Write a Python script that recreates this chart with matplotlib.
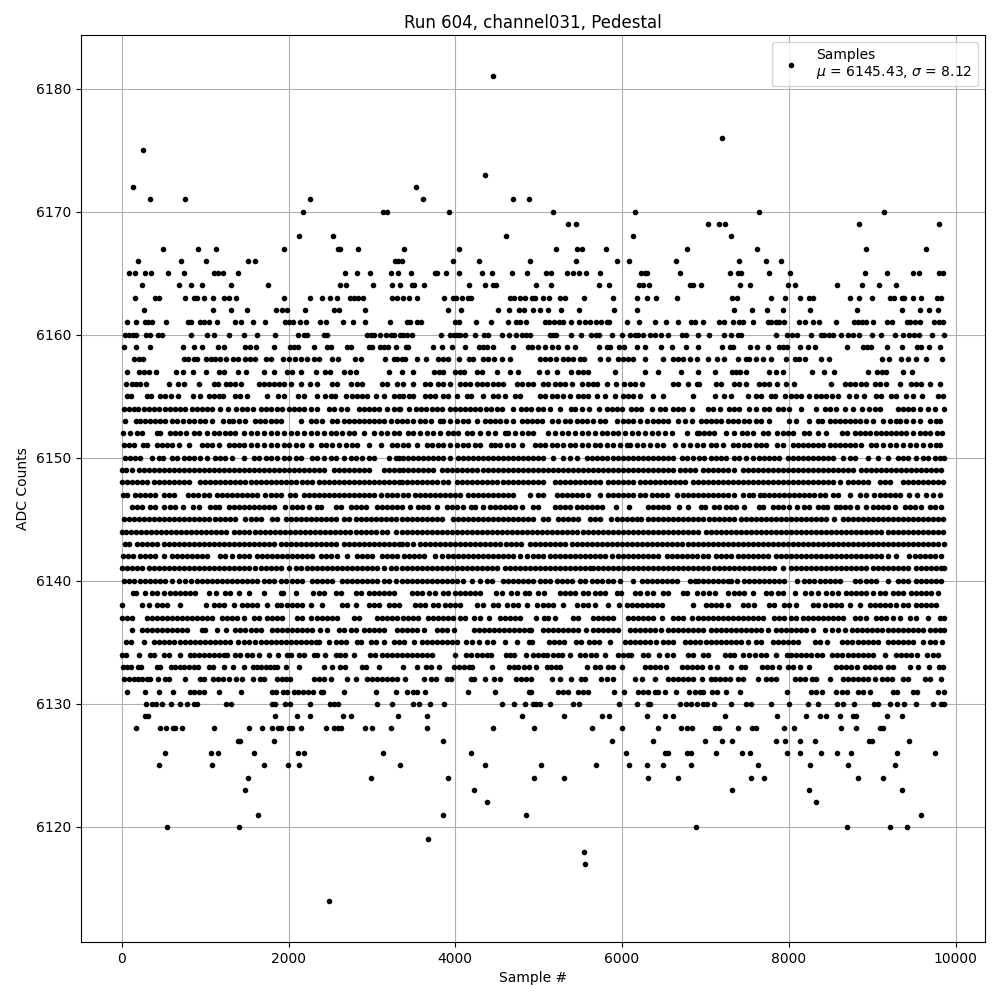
"""
Pedestal scatter for run 604, channel031. Sample numbers are read off per ADC level.
"""
import matplotlib
matplotlib.use("Agg")
import matplotlib.pyplot as plt

s_6181 = [4455]
s_6176 = [7198]
s_6175 = [251]
s_6173 = [4359]
s_6172 = [132, 3524]
s_6171 = [336, 756, 2254, 3608, 4688, 4880]
s_6170 = [2168, 3132, 3176, 3920, 5172, 6156, 7644, 9144]
s_6169 = [5352, 5448, 7032, 7164, 7236, 8844, 9796]
s_6168 = [2124, 2532, 4608, 6132, 7308]
s_6167 = [492, 912, 1128, 1944, 2592, 2620, 2832, 3384, 4044, 5208, 5460, 5520, 5808, 6780, 7620, 8928, 9648]
s_6166 = [192, 708, 1008, 1512, 1596, 3276, 3312, 3364, 3976, 4288, 4892, 5448, 5940, 6084, 6648, 7404, 7728, 7912]
s_6165 = [88, 160, 280, 352, 556, 748, 1104, 1152, 1216, 1392, 2676, 2820, 2976, 3228, 3312, 3468, 3752, 3784, 3888,
          4044, 4320, 4440, 4680, 4864, 5084, 5148, 5340, 5412, 5484, 5568, 5736, 6228, 6276, 6300, 6696, 7296, 7392,
          7428, 7764, 8016, 8916, 9180, 9492, 9564, 9804, 9852]
s_6164 = [240, 684, 828, 960, 1308, 1752, 2620, 2688, 3008, 3240, 3336, 3480, 3504, 3620, 4164, 4356, 4452, 4488, 4968,
          5148, 5724, 5844, 6204, 6252, 6324, 6816, 6852, 6948, 7416, 7536, 7992, 8076, 8580, 8880, 9084, 9288]
s_6163 = [156, 396, 444, 756, 864, 900, 984, 1092, 1224, 1284, 1368, 1944, 2256, 2400, 2496, 2580, 2736, 2784, 2832,
          2892, 3240, 3300, 3372, 3444, 3540, 3864, 3968, 4008, 4080, 4152, 4188, 4656, 4704, 4776, 4836, 4920, 4956,
          5052, 5124, 5256, 5316, 5544, 5892, 6180, 6300, 6408, 6660, 7320, 7380, 7788, 7956, 8136, 8244, 8292, 8736,
          8844, 9000, 9216, 9264, 9360, 9384, 9492, 9588, 9780, 9828]
s_6162 = [264, 1092, 1308, 1500, 1848, 1920, 1984, 2196, 2544, 2604, 2916, 3912, 4068, 4512, 4644, 4764, 4824, 4932,
          5016, 5112, 5268, 5484, 5904, 6180, 7344, 7560, 7740, 7932, 8256, 8820, 9360, 9576, 9684, 9792]
s_6161 = [60, 168, 276, 312, 360, 528, 792, 828, 936, 984, 1044, 1140, 1356, 1428, 1572, 1716, 1956, 2004, 2052, 2136,
          2208, 2376, 2448, 2652, 2772, 2916, 3216, 3420, 3456, 3540, 3588, 3996, 4044, 4252, 4428, 4632, 4728, 4776,
          4848, 5076, 5124, 5184, 5244, 5292, 5388, 5484, 5556, 5616, 5688, 5748, 5820, 5844, 6060, 6204, 6392, 6528,
          6672, 6828, 6876, 6972, 7164, 7224, 7332, 7404, 7452, 7572, 7752, 7788, 7848, 7884, 7944, 8124, 8196, 8292,
          8364, 8568, 8784, 8832, 8880, 8928, 9012, 9180, 9240, 9420, 9456, 9516, 9576, 9744, 9804, 9852]
s_6160 = [36, 84, 132, 168, 288, 336, 432, 480, 828, 1020, 1104, 1284, 1464, 1620, 1836, 2112, 2184, 2220, 2424, 2460,
          2940, 2988, 3024, 3096, 3168, 3228, 3264, 3336, 3372, 3420, 3480, 3828, 3936, 3984, 4020, 4056, 4116, 4236,
          4344, 4392, 4560, 4644, 4728, 4800, 4848, 4892, 5136, 5172, 5208, 5388, 5508, 5628, 5688, 5724, 5880, 6000,
          6096, 6156, 6192, 6252, 6336, 6396, 6468, 6552, 6720, 6768, 6912, 7044, 7224, 7308, 7392, 7428, 7848, 7980,
          8040, 8100, 8268, 8388, 8424, 8484, 8532, 8628, 8712, 8772, 8844, 9000, 9108, 9276, 9372, 9444, 9504, 9564,
          9720, 9860]
s_6159 = [32, 168, 336, 732, 864, 960, 1152, 1224, 1476, 1536, 1608, 1824, 2016, 2064, 2112, 2304, 2464, 2512, 2704,
          2752, 2964, 3004, 3096, 3144, 3192, 3288, 3408, 3436, 3736, 3844, 3964, 4120, 4280, 4336, 4384, 4456, 4696,
          4876, 4916, 4996, 5076, 5156, 5236, 5344, 5440, 5728, 5824, 5856, 5968, 6024, 6184, 6276, 6472, 6596, 6764,
          6916, 7196, 7296, 7328, 7532, 7616, 7748, 7880, 7928, 7976, 8132, 8228, 8312, 8696, 8888, 8936, 8984, 9176,
          9356, 9536, 9584, 9680, 9812]
s_6158 = [144, 204, 256, 744, 792, 864, 904, 1016, 1072, 1124, 1176, 1256, 1336, 1392, 1484, 1536, 1592, 1724, 1784,
          1936, 2004, 2072, 2144, 2216, 2304, 2364, 2516, 2592, 2792, 2864, 3152, 3264, 3304, 3356, 3396, 3536, 3648,
          3796, 3856, 3908, 4044, 4164, 4216, 4336, 4396, 4468, 4556, 4656, 5016, 5076, 5136, 5208, 5296, 5356, 5416,
          5496, 5544, 5736, 5836, 5956, 6016, 6076, 6136, 6280, 6496, 6616, 6676, 6736, 6816, 6896, 7028, 7140, 7228,
          7388, 7488, 7528, 7604, 7696, 7788, 7968, 8080, 8128, 8192, 8384, 8480, 9116, 9196, 9348, 9428, 9528, 9644,
          9840]
s_6157 = [64, 204, 264, 324, 408, 648, 732, 852, 1008, 1164, 1224, 1392, 1488, 1700, 1824, 1984, 2044, 2152, 2332, 2432,
          2496, 2664, 2736, 2808, 3204, 3364, 3496, 3744, 3808, 3848, 3996, 4056, 4104, 4256, 4316, 4496, 4656, 4756,
          5008, 5096, 5224, 5384, 5476, 5536, 5596, 5920, 6276, 6436, 6704, 6908, 7112, 7316, 7368, 7416, 7484, 7760,
          7848, 7928, 8276, 8420, 8540, 8948, 9056, 9120, 9168, 9368, 9476]
s_6156 = [48, 124, 172, 224, 296, 564, 672, 744, 924, 1104, 1152, 1256, 1304, 1364, 1432, 1644, 1704, 1764, 1824, 1884,
          1944, 2024, 2144, 2256, 2344, 2524, 2576, 2744, 2824, 2884, 3124, 3184, 3304, 3376, 3496, 3636, 3696, 3796,
          3856, 3936, 4056, 4116, 4176, 4256, 4316, 4384, 4456, 4516, 4576, 4736, 4796, 4876, 4936, 5056, 5116, 5196,
          5256, 5316, 5396, 5516, 5596, 5656, 5704, 5824, 5928, 6024, 6096, 6156, 6236, 6616, 6676, 6796, 6896, 6928,
          7128, 7188, 7348, 7408, 7488, 7648, 7708, 7768, 7856, 7968, 8068, 8504, 8668, 8728, 8788, 8868, 8920, 9028,
          9088, 9168, 9328, 9468, 9528, 9588, 9696, 9816]
s_6155 = [64, 112, 304, 352, 464, 524, 592, 672, 856, 936, 1044, 1104, 1164, 1216, 1364, 1424, 1504, 1744, 1872, 1944,
          2112, 2184, 2344, 2432, 2504, 2552, 2684, 2764, 2824, 2884, 2944, 3044, 3144, 3264, 3324, 3376, 3448, 3496,
          3636, 3696, 3756, 3856, 3916, 4016, 4136, 4184, 4336, 4456, 4516, 4596, 4716, 4776, 5016, 5076, 5156, 5216,
          5296, 5376, 5476, 5536, 5596, 5696, 5796, 5916, 6016, 6076, 6136, 6216, 6376, 6488, 6848, 7120, 7220, 7304,
          7508, 7608, 7668, 7788, 7840, 7956, 8028, 8088, 8148, 8240, 8328, 8388, 8448, 8520, 8588, 8720, 8800, 8896,
          9048, 9108, 9220, 9288, 9400, 9488, 9592, 9788, 9848]
s_6154 = [24, 84, 144, 192, 264, 324, 384, 444, 524, 584, 644, 704, 764, 844, 904, 964, 1024, 1084, 1176, 1272, 1376,
          1444, 1504, 1576, 1672, 1732, 1792, 1864, 1924, 2004, 2064, 2124, 2184, 2264, 2344, 2484, 2544, 2624, 2696,
          2844, 2904, 2964, 3024, 3084, 3184, 3264, 3324, 3336, 3448, 3528, 3584, 3648, 3716, 3776, 3836, 3936, 3996,
          4056, 4116, 4176, 4236, 4296, 4368, 4424, 4496, 4564, 4696, 4784, 4848, 4904, 4996, 5056, 5136, 5256, 5388,
          5436, 5524, 5608, 5728, 5824, 5884, 5936, 5996, 6104, 6168, 6224, 6364, 6456, 6516, 6608, 6676, 6736, 6840,
          7028, 7088, 7180, 7288, 7348, 7408, 7520, 7608, 7708, 7768, 7868, 7928, 8000, 8148, 8320, 8428, 8488, 8568,
          8668, 8768, 8880, 8960, 9028, 9088, 9308, 9368, 9428, 9488, 9568, 9668, 9748, 9860]
s_6153 = [44, 176, 224, 284, 344, 404, 464, 524, 604, 664, 736, 804, 872, 944, 1004, 1084, 1216, 1284, 1336, 1404, 1484,
          1592, 1656, 1712, 1784, 1844, 1904, 2144, 2264, 2324, 2404, 2524, 2584, 2664, 2724, 2784, 2844, 2904, 2964,
          3024, 3084, 3144, 3224, 3304, 3356, 3416, 3496, 3576, 3636, 3708, 3816, 3856, 3936, 4016, 4096, 4156, 4264,
          4356, 4416, 4476, 4536, 4608, 4696, 4796, 4856, 4916, 4976, 5036, 5156, 5236, 5316, 5376, 5456, 5516, 5576,
          5656, 5736, 5796, 5936, 6016, 6076, 6136, 6216, 6296, 6376, 6436, 6496, 6556, 6676, 6756, 6836, 6948, 7008,
          7068, 7128, 7188, 7268, 7328, 7388, 7468, 7528, 7608, 7668, 7768, 8008, 8088, 8240, 8348, 8400, 8488, 8548,
          8608, 8668, 8728, 8788, 8848, 8928, 9008, 9128, 9208, 9280, 9336, 9408, 9488, 9568, 9696, 9768, 9816]
s_6152 = [12, 104, 184, 244, 424, 464, 576, 644, 704, 776, 864, 924, 1024, 1104, 1164, 1244, 1304, 1364, 1472, 1544,
          1624, 1704, 1784, 1864, 1944, 2024, 2104, 2184, 2264, 2344, 2424, 2504, 2564, 2644, 2724, 2784, 2904, 3024,
          3104, 3184, 3264, 3324, 3436, 3496, 3576, 3656, 3736, 3816, 3916, 3976, 4036, 4136, 4196, 4296, 4396, 4476,
          4596, 4636, 4716, 4796, 4876, 4936, 5116, 5196, 5276, 5356, 5436, 5516, 5596, 5676, 5756, 5816, 5896, 5956,
          6036, 6116, 6196, 6276, 6356, 6436, 6516, 6596, 6776, 6896, 6920, 6988, 7048, 7108, 7248, 7348, 7440, 7496,
          7576, 7696, 7748, 7856, 7928, 7988, 8048, 8188, 8248, 8348, 8448, 8640, 8696, 8788, 8848, 8908, 8976, 9048,
          9108, 9168, 9228, 9288, 9348, 9408, 9488, 9568, 9628, 9696, 9776, 9840]
s_6151 = [32, 84, 144, 256, 304, 424, 484, 544, 604, 684, 812, 964, 1024, 1084, 1164, 1284, 1344, 1404, 1464, 1544,
          1624, 1704, 1784, 1864, 1944, 2004, 2084, 2164, 2264, 2384, 2444, 2524, 2604, 2684, 2764, 2824, 2964, 3104,
          3244, 3304, 3376, 3436, 3544, 3656, 3716, 3796, 3856, 3936, 4016, 4096, 4156, 4236, 4296, 4424, 4476, 4536,
          4624, 4696, 4796, 4956, 5016, 5076, 5156, 5216, 5296, 5376, 5436, 5516, 5596, 5676, 5736, 5816, 5896, 5976,
          6056, 6096, 6184, 6256, 6336, 6416, 6496, 6636, 6736, 6816, 6896, 6968, 7068, 7128, 7208, 7328, 7388, 7468,
          7528, 7608, 7668, 7728, 7856, 7928, 8048, 8108, 8168, 8228, 8288, 8348, 8408, 8488, 8548, 8608, 8668, 8728,
          8788, 8868, 8988, 9048, 9128, 9208, 9288, 9368, 9448, 9528, 9608, 9688, 9768, 9816]
s_6150 = [44, 104, 164, 224, 364, 444, 496, 604, 664, 744, 804, 864, 944, 1024, 1124, 1184, 1244, 1324, 1464, 1584,
          1644, 1724, 1784, 1864, 1944, 2004, 2084, 2144, 2284, 2344, 2424, 2504, 2564, 2664, 2744, 2804, 2884, 2964,
          3024, 3204, 3284, 3324, 3376, 3436, 3496, 3556, 3616, 3676, 3736, 3796, 3856, 3936, 4036, 4096, 4156, 4216,
          4276, 4336, 4396, 4456, 4516, 4576, 4636, 4696, 4756, 4816, 4876, 4936, 4996, 5056, 5176, 5296, 5376, 5456,
          5576, 5636, 5696, 5756, 5816, 5896, 5956, 6016, 6076, 6136, 6196, 6256, 6316, 6376, 6436, 6496, 6556, 6616,
          6716, 6776, 6856, 6928, 6988, 7068, 7128, 7188, 7248, 7348, 7408, 7488, 7568, 7648, 7708, 7768, 7828, 7888,
          7988, 8048, 8108, 8168, 8228, 8288, 8348, 8408, 8468, 8528, 8648, 8728, 8788, 8948, 9068, 9188, 9308, 9368,
          9428, 9528, 9608, 9668, 9748, 9808, 9860]
s_6149 = [8, 56, 124, 204, 264, 324, 384, 444, 504, 564, 624, 684, 744, 804, 864, 924, 984, 1044, 1104, 1164, 1224,
          1284, 1344, 1404, 1464, 1524, 1584, 1644, 1704, 1764, 1824, 1884, 1944, 2004, 2064, 2124, 2184, 2244, 2304,
          2364, 2424, 2544, 2604, 2664, 2724, 2784, 2844, 2904, 2964, 3144, 3204, 3264, 3324, 3376, 3436, 3496, 3556,
          3616, 3676, 3736, 3836, 3896, 3956, 4016, 4076, 4136, 4196, 4256, 4336, 4396, 4456, 4516, 4576, 4636, 4696,
          4756, 4816, 4876, 4936, 4996, 5056, 5116, 5176, 5236, 5296, 5356, 5416, 5476, 5536, 5596, 5656, 5716, 5776,
          5836, 5896, 5956, 6016, 6076, 6136, 6196, 6256, 6316, 6376, 6436, 6496, 6556, 6616, 6696, 6756, 6816, 6876,
          6968, 7028, 7088, 7148, 7208, 7268, 7348, 7448, 7508, 7568, 7628, 7688, 7748, 7808, 7868, 7928, 7988, 8048,
          8108, 8168, 8228, 8288, 8348, 8408, 8468, 8528, 8588, 8648, 8708, 8768, 8868, 8928, 8988, 9048, 9108, 9168,
          9228, 9288, 9348, 9408, 9468, 9528, 9588, 9648, 9708, 9768, 9828]
s_6148 = [4, 64, 124, 184, 244, 304, 384, 444, 504, 564, 624, 684, 744, 804, 944, 1004, 1064, 1124, 1184, 1244, 1304,
          1364, 1424, 1484, 1544, 1604, 1664, 1724, 1784, 1844, 1904, 1964, 2024, 2084, 2164, 2224, 2284, 2364, 2424,
          2484, 2544, 2604, 2664, 2724, 2784, 2844, 2904, 2964, 3024, 3084, 3144, 3204, 3264, 3324, 3356, 3416, 3476,
          3536, 3596, 3656, 3716, 3776, 3856, 3916, 4016, 4076, 4136, 4196, 4256, 4316, 4376, 4436, 4496, 4576, 4636,
          4696, 4756, 4816, 4876, 4936, 4996, 5056, 5196, 5256, 5316, 5376, 5436, 5496, 5556, 5616, 5676, 5736, 5836,
          5896, 5956, 6016, 6076, 6136, 6216, 6276, 6336, 6396, 6456, 6516, 6576, 6636, 6696, 6756, 6856, 6916, 6968,
          7028, 7088, 7148, 7208, 7268, 7328, 7388, 7448, 7508, 7568, 7628, 7688, 7748, 7808, 7868, 7928, 7988, 8048,
          8108, 8168, 8228, 8288, 8348, 8408, 8468, 8528, 8608, 8708, 8768, 8828, 8888, 8948, 9088, 9148, 9208, 9368,
          9428, 9488, 9548, 9608, 9668, 9728, 9788, 9848]
s_6147 = [16, 64, 164, 224, 284, 344, 404, 504, 564, 624, 792, 852, 912, 984, 1044, 1144, 1204, 1264, 1324, 1384, 1444,
          1504, 1564, 1624, 1712, 1784, 1844, 1904, 2016, 2072, 2184, 2244, 2304, 2364, 2424, 2484, 2544, 2604, 2664,
          2724, 2784, 2844, 2904, 2964, 3024, 3104, 3184, 3244, 3304, 3376, 3436, 3516, 3576, 3636, 3696, 3756, 3816,
          3876, 3936, 3996, 4056, 4156, 4216, 4276, 4336, 4396, 4456, 4516, 4576, 4636, 4696, 4896, 4996, 5056, 5216,
          5276, 5336, 5396, 5456, 5516, 5596, 5736, 5836, 5896, 5956, 6016, 6076, 6136, 6216, 6276, 6356, 6416, 6476,
          6536, 6656, 6736, 6796, 6856, 6908, 6968, 7028, 7088, 7148, 7208, 7268, 7348, 7448, 7520, 7568, 7656, 7708,
          7768, 7828, 7888, 7948, 8008, 8068, 8128, 8188, 8248, 8308, 8368, 8428, 8528, 8588, 8736, 8848, 8928, 9016,
          9088, 9148, 9208, 9268, 9336, 9440, 9536, 9640, 9728, 9808]
s_6146 = [124, 184, 244, 344, 404, 512, 576, 644, 732, 856, 932, 1056, 1116, 1172, 1284, 1344, 1404, 1464, 1524, 1584,
          1644, 1704, 1764, 1824, 1956, 2044, 2104, 2164, 2244, 2344, 2392, 2564, 2624, 2744, 2804, 2864, 2924, 3064,
          3124, 3184, 3244, 3304, 3356, 3456, 3556, 3616, 3676, 3776, 3896, 3956, 4016, 4096, 4184, 4236, 4336, 4416,
          4476, 4536, 4596, 4656, 4716, 4796, 4936, 4996, 5196, 5256, 5316, 5376, 5456, 5516, 5576, 5636, 5696, 5756,
          5928, 6088, 6316, 6376, 6436, 6496, 6556, 6688, 6796, 6948, 7000, 7108, 7168, 7248, 7308, 7368, 7460, 7640,
          7696, 7808, 7868, 7928, 8008, 8096, 8188, 8240, 8348, 8408, 8456, 8560, 8608, 8668, 8728, 8820, 8920, 9008,
          9068, 9128, 9188, 9268, 9388, 9448, 9508, 9588, 9688, 9748, 9828]
s_6145 = [24, 84, 144, 204, 264, 324, 384, 444, 504, 564, 624, 684, 744, 804, 864, 924, 984, 1044, 1124, 1184, 1244,
          1304, 1364, 1484, 1544, 1604, 1664, 1804, 1864, 1964, 2024, 2084, 2144, 2204, 2264, 2324, 2384, 2444, 2504,
          2564, 2664, 2724, 2804, 2864, 2924, 2984, 3044, 3104, 3164, 3224, 3284, 3356, 3416, 3476, 3536, 3596, 3656,
          3716, 3776, 3836, 3976, 4036, 4096, 4156, 4216, 4276, 4336, 4396, 4456, 4516, 4576, 4636, 4696, 4756, 4816,
          4876, 4936, 5056, 5116, 5236, 5296, 5356, 5416, 5476, 5616, 5676, 5736, 5864, 5936, 5996, 6056, 6116, 6176,
          6224, 6316, 6376, 6436, 6496, 6556, 6616, 6676, 6736, 6796, 6856, 6916, 6968, 7048, 7108, 7168, 7228, 7288,
          7348, 7428, 7488, 7548, 7608, 7668, 7728, 7788, 7848, 7908, 7968, 8028, 8088, 8148, 8208, 8268, 8328, 8388,
          8448, 8540, 8648, 8708, 8768, 8828, 8888, 8948, 9008, 9068, 9128, 9188, 9248, 9308, 9368, 9428, 9488, 9548,
          9608, 9668, 9728, 9788, 9848]
s_6144 = [4, 56, 116, 176, 236, 296, 356, 416, 476, 536, 596, 656, 716, 776, 836, 896, 956, 1016, 1076, 1136, 1196,
          1256, 1352, 1412, 1472, 1532, 1592, 1652, 1712, 1772, 1832, 1892, 1952, 2012, 2072, 2132, 2192, 2252, 2312,
          2372, 2432, 2492, 2552, 2612, 2672, 2732, 2804, 2864, 2924, 2984, 3044, 3124, 3184, 3284, 3356, 3416, 3476,
          3536, 3596, 3656, 3716, 3776, 3836, 3896, 3956, 4016, 4076, 4136, 4196, 4256, 4316, 4376, 4436, 4496, 4556,
          4616, 4676, 4736, 4796, 4856, 4916, 4976, 5036, 5096, 5156, 5216, 5276, 5336, 5396, 5456, 5536, 5596, 5656,
          5716, 5776, 5836, 5896, 5956, 6016, 6076, 6136, 6196, 6256, 6316, 6376, 6436, 6496, 6556, 6616, 6676, 6736,
          6796, 6856, 6908, 7008, 7068, 7128, 7188, 7248, 7308, 7368, 7428, 7488, 7548, 7608, 7668, 7728, 7788, 7848,
          7908, 7968, 8028, 8088, 8148, 8208, 8268, 8328, 8388, 8448, 8508, 8568, 8628, 8688, 8748, 8808, 8868, 8928,
          8988, 9048, 9108, 9188, 9248, 9308, 9368, 9428, 9488, 9548, 9608, 9668, 9728, 9788, 9848]
s_6143 = [44, 84, 184, 244, 304, 364, 424, 504, 564, 624, 684, 744, 804, 864, 924, 984, 1044, 1104, 1164, 1224, 1284,
          1344, 1404, 1464, 1524, 1584, 1644, 1704, 1764, 1824, 1904, 1964, 2024, 2084, 2144, 2204, 2264, 2324, 2384,
          2444, 2504, 2564, 2664, 2724, 2784, 2844, 2904, 2964, 3024, 3084, 3144, 3204, 3264, 3324, 3356, 3416, 3496,
          3576, 3636, 3696, 3756, 3816, 3876, 3936, 3996, 4056, 4116, 4176, 4236, 4296, 4356, 4416, 4476, 4536, 4608,
          4668, 4728, 4788, 4896, 4956, 5016, 5076, 5136, 5196, 5256, 5316, 5396, 5456, 5516, 5576, 5636, 5696, 5756,
          5816, 5876, 5936, 5996, 6056, 6116, 6176, 6236, 6296, 6356, 6416, 6476, 6536, 6596, 6656, 6716, 6796, 6856,
          6916, 6968, 7028, 7088, 7148, 7208, 7268, 7328, 7388, 7448, 7508, 7568, 7628, 7688, 7748, 7808, 7868, 7928,
          7988, 8048, 8108, 8168, 8228, 8288, 8348, 8408, 8468, 8528, 8588, 8648, 8708, 8768, 8828, 8888, 8948, 9008,
          9068, 9128, 9188, 9248, 9308, 9368, 9428, 9488, 9548, 9608, 9668, 9728, 9788, 9860]
s_6142 = [16, 76, 136, 216, 276, 336, 396, 504, 604, 664, 724, 784, 844, 904, 964, 1024, 1184, 1244, 1324, 1404, 1464,
          1524, 1624, 1684, 1744, 1804, 1864, 1924, 1984, 2044, 2104, 2164, 2224, 2284, 2384, 2444, 2504, 2584, 2704,
          2824, 2884, 2944, 3004, 3124, 3184, 3244, 3304, 3384, 3444, 3504, 3564, 3624, 3756, 3836, 3916, 3976, 4036,
          4096, 4156, 4216, 4276, 4336, 4396, 4456, 4516, 4576, 4636, 4696, 4776, 4856, 4936, 4996, 5056, 5136, 5196,
          5256, 5316, 5376, 5436, 5496, 5556, 5616, 5676, 5736, 5796, 5876, 5956, 6016, 6076, 6136, 6196, 6256, 6316,
          6376, 6436, 6536, 6596, 6656, 6716, 6776, 6836, 6896, 6968, 7028, 7128, 7188, 7248, 7308, 7388, 7448, 7508,
          7568, 7628, 7688, 7748, 7848, 7908, 7968, 8028, 8088, 8148, 8208, 8268, 8328, 8388, 8448, 8508, 8568, 8628,
          8688, 8748, 8808, 8868, 8928, 8988, 9048, 9108, 9188, 9288, 9440, 9508, 9568, 9628, 9688, 9748, 9828]
s_6141 = [4, 64, 124, 184, 244, 324, 384, 444, 504, 564, 624, 684, 744, 804, 864, 924, 984, 1044, 1104, 1164, 1224,
          1284, 1344, 1404, 1464, 1524, 1592, 1664, 1724, 1784, 1844, 1904, 2004, 2084, 2144, 2224, 2284, 2344, 2404,
          2464, 2524, 2584, 2644, 2704, 2764, 2824, 2884, 2944, 3004, 3064, 3144, 3224, 3284, 3356, 3416, 3476, 3536,
          3596, 3656, 3716, 3776, 3836, 3896, 3956, 4016, 4076, 4136, 4196, 4256, 4316, 4376, 4436, 4496, 4596, 4656,
          4716, 4776, 4836, 4896, 4956, 5016, 5076, 5136, 5196, 5256, 5316, 5376, 5436, 5496, 5556, 5616, 5656, 5716,
          5776, 5836, 5896, 5956, 6016, 6076, 6136, 6196, 6256, 6316, 6376, 6436, 6496, 6556, 6616, 6676, 6736, 6796,
          6856, 6916, 6968, 7028, 7108, 7168, 7228, 7288, 7348, 7408, 7468, 7528, 7588, 7648, 7708, 7768, 7828, 7928,
          8028, 8088, 8148, 8208, 8268, 8328, 8388, 8448, 8508, 8568, 8628, 8688, 8748, 8808, 8868, 8928, 9008, 9068,
          9128, 9188, 9248, 9308, 9368, 9428, 9528, 9588, 9648, 9708, 9768, 9828, 9860]
s_6140 = [24, 84, 144, 224, 284, 344, 404, 464, 524, 604, 684, 764, 832, 904, 964, 1024, 1084, 1144, 1204, 1264, 1324,
          1384, 1444, 1504, 1564, 1624, 1704, 1764, 1824, 1904, 1964, 2044, 2104, 2164, 2284, 2344, 2404, 2464, 2524,
          2644, 2704, 2764, 2824, 2884, 2944, 3004, 3064, 3144, 3204, 3284, 3356, 3416, 3476, 3536, 3596, 3656, 3716,
          3776, 3836, 3896, 3956, 4016, 4096, 4196, 4296, 4384, 4436, 4576, 4636, 4696, 4756, 4816, 4876, 4936, 5016,
          5076, 5136, 5216, 5276, 5336, 5396, 5496, 5556, 5636, 5696, 5756, 5836, 5896, 5976, 6136, 6236, 6296, 6356,
          6416, 6476, 6536, 6596, 6656, 6816, 6876, 6916, 6968, 7028, 7088, 7148, 7208, 7268, 7308, 7376, 7468, 7528,
          7588, 7648, 7708, 7768, 7828, 7888, 7948, 8096, 8188, 8248, 8308, 8368, 8428, 8488, 8548, 8608, 8788, 8848,
          8928, 8988, 9048, 9188, 9308, 9368, 9428, 9528, 9588, 9648, 9708, 9768, 9828]
s_6139 = [136, 176, 276, 364, 424, 504, 584, 644, 704, 764, 824, 884, 1044, 1132, 1244, 1304, 1404, 1524, 1704, 1904,
          1936, 2084, 2292, 2364, 2424, 2564, 2624, 2804, 2864, 2964, 3024, 3084, 3144, 3204, 3264, 3476, 3536, 3596,
          3688, 3756, 3856, 3916, 3996, 4056, 4116, 4176, 4236, 4296, 4484, 4564, 4664, 4744, 4836, 4888, 4996, 5064,
          5256, 5316, 5376, 5436, 5536, 5596, 5676, 5736, 5796, 5936, 5984, 6156, 6216, 6296, 6376, 6496, 6556, 6736,
          6776, 6896, 6968, 7040, 7120, 7268, 7348, 7408, 7468, 7568, 7728, 7788, 7868, 7936, 8080, 8200, 8268, 8348,
          8448, 8520, 8588, 8688, 8748, 8808, 8868, 8928, 9008, 9096, 9148, 9248, 9308, 9368, 9468, 9528, 9588, 9648,
          9708, 9788]
s_6138 = [4, 244, 324, 424, 484, 544, 704, 1012, 1104, 1164, 1224, 1352, 1444, 1504, 1564, 1624, 1744, 1856, 1904, 1984,
          2044, 2104, 2164, 2264, 2404, 2644, 2704, 2804, 2964, 3024, 3084, 3204, 3264, 3324, 3516, 3576, 3636, 3736,
          3796, 3876, 3936, 3996, 4056, 4256, 4336, 4456, 4516, 4616, 4696, 4756, 4856, 4984, 5056, 5116, 5176, 5296,
          5456, 5536, 5596, 5676, 5836, 5968, 6056, 6116, 6176, 6236, 6296, 6356, 6416, 6476, 6848, 7008, 7068, 7128,
          7188, 7268, 7448, 7508, 7588, 7768, 7828, 7948, 8008, 8088, 8288, 8348, 8428, 8508, 8568, 8628, 8728, 8856,
          8968, 9028, 9088, 9148, 9208, 9288, 9368, 9428, 9528, 9588, 9648, 9708, 9768]
s_6137 = [4, 64, 124, 304, 364, 424, 484, 544, 604, 664, 724, 784, 844, 904, 964, 1024, 1084, 1204, 1264, 1324, 1384,
          1464, 1584, 1644, 1744, 1804, 1864, 1924, 2104, 2164, 2272, 2344, 2404, 2464, 2524, 2584, 2784, 2844, 3064,
          3124, 3184, 3244, 3304, 3376, 3436, 3496, 3556, 3676, 3736, 3796, 3856, 3916, 3976, 4056, 4116, 4224, 4296,
          4408, 4536, 4596, 4656, 4716, 4776, 4968, 5064, 5116, 5196, 5416, 5476, 5648, 5716, 5776, 5836, 5896, 6076,
          6136, 6196, 6256, 6316, 6376, 6476, 6616, 6676, 6736, 6836, 6916, 6968, 7028, 7088, 7148, 7208, 7268, 7328,
          7388, 7448, 7508, 7568, 7628, 7688, 7828, 7888, 7948, 8028, 8088, 8168, 8228, 8288, 8348, 8408, 8468, 8528,
          8588, 8648, 8788, 8848, 8928, 9048, 9108, 9168, 9248, 9328, 9448, 9528, 9668, 9808, 9860]
s_6136 = [124, 244, 304, 364, 424, 484, 544, 604, 664, 724, 784, 964, 1004, 1144, 1256, 1364, 1424, 1484, 1544, 1604,
          1664, 1804, 1864, 1924, 1984, 2044, 2104, 2164, 2224, 2284, 2376, 2464, 2604, 2664, 2744, 2804, 2904, 2964,
          3024, 3084, 3144, 3304, 3364, 3424, 3484, 3544, 3624, 3784, 3844, 3904, 3984, 4224, 4284, 4344, 4404, 4464,
          4524, 4584, 4644, 4704, 4764, 4824, 4884, 4912, 5052, 5112, 5172, 5232, 5292, 5352, 5412, 5472, 5572, 5652,
          5712, 5772, 5832, 5892, 5952, 6092, 6152, 6212, 6272, 6332, 6392, 6472, 6552, 6612, 6672, 6732, 6792, 6852,
          6912, 6972, 7072, 7132, 7192, 7252, 7312, 7372, 7432, 7492, 7552, 7612, 7672, 7752, 7852, 7912, 7972, 8032,
          8092, 8152, 8212, 8292, 8432, 8512, 8592, 8672, 8752, 8812, 8872, 8932, 8992, 9052, 9112, 9192, 9252, 9312,
          9372, 9432, 9492, 9552, 9612, 9692, 9752, 9812, 9860]
s_6135 = [56, 112, 272, 384, 444, 504, 564, 624, 704, 764, 824, 884, 944, 1004, 1064, 1124, 1184, 1244, 1304, 1392,
          1472, 1532, 1592, 1664, 1724, 1784, 1844, 1904, 1964, 2024, 2084, 2144, 2204, 2264, 2324, 2364, 2484, 2564,
          2624, 2692, 2824, 2872, 2984, 3044, 3144, 3264, 3324, 3384, 3504, 3604, 3664, 3724, 3784, 3844, 3904, 3964,
          4024, 4124, 4204, 4284, 4384, 4456, 4600, 4740, 4884, 4924, 5124, 5184, 5244, 5304, 5452, 5512, 5604, 5664,
          5724, 5852, 6032, 6092, 6152, 6212, 6272, 6332, 6404, 6492, 6552, 6612, 6752, 6812, 6872, 6932, 7012, 7072,
          7132, 7192, 7252, 7312, 7372, 7432, 7512, 7612, 7672, 7812, 7872, 7932, 7992, 8052, 8112, 8312, 8372, 8452,
          8632, 8692, 8752, 8832, 8892, 8952, 9012, 9072, 9192, 9252, 9312, 9372, 9432, 9492, 9604, 9692, 9752, 9840]
s_6134 = [4, 56, 204, 336, 384, 504, 564, 704, 816, 864, 924, 984, 1044, 1104, 1164, 1224, 1264, 1364, 1416, 1504, 1564,
          1644, 1764, 1872, 1976, 2032, 2124, 2184, 2304, 2344, 2432, 2564, 2616, 2672, 2784, 2976, 3032, 3124, 3184,
          3244, 3304, 3364, 3424, 3484, 3544, 3604, 3664, 3724, 3996, 4124, 4184, 4264, 4324, 4384, 4424, 4604, 4656,
          4704, 4848, 4932, 4992, 5052, 5100, 5172, 5232, 5280, 5372, 5492, 5552, 5632, 5692, 5792, 5952, 6012, 6072,
          6112, 6252, 6312, 6444, 6540, 6612, 6792, 6852, 6972, 7032, 7232, 7292, 7340, 7452, 7524, 7592, 7672, 7732,
          7852, 7980, 8032, 8092, 8152, 8212, 8272, 8332, 8392, 8512, 8572, 8640, 8712, 8772, 8832, 8892, 8952, 9012,
          9152, 9280, 9340, 9400, 9460, 9532, 9652, 9724, 9792]
s_6133 = [16, 64, 112, 192, 232, 424, 464, 592, 644, 696, 744, 804, 864, 912, 1044, 1096, 1232, 1332, 1464, 1576, 1624,
          1672, 1724, 1776, 1824, 1864, 1972, 2124, 2424, 2520, 2616, 2672, 2884, 2924, 3084, 3372, 3540, 3644, 3704,
          3804, 3984, 4044, 4104, 4164, 4204, 4436, 4644, 4704, 4752, 4824, 4884, 4972, 5100, 5152, 5204, 5252, 5580,
          5672, 5732, 5832, 5892, 5996, 6272, 6332, 6392, 6452, 6532, 6724, 6780, 6840, 6900, 6960, 7052, 7140, 7308,
          7428, 7476, 7680, 7740, 7800, 7884, 7992, 8052, 8136, 8244, 8564, 8624, 8684, 8744, 8812, 8912, 8972, 9032,
          9092, 9192, 9252, 9452, 9552, 9684, 9804, 9852]
s_6132 = [32, 84, 144, 192, 244, 304, 344, 432, 524, 564, 756, 944, 984, 1096, 1152, 1216, 1284, 1376, 1444, 1576, 1652,
          1704, 1856, 1916, 1964, 2016, 2304, 2364, 2424, 2504, 2704, 2808, 2944, 3004, 3064, 3124, 3184, 3244, 3304,
          3400, 3624, 3704, 3764, 3904, 3944, 4184, 4224, 4356, 4464, 4536, 4724, 4784, 4844, 4912, 5164, 5260, 5388,
          5512, 5552, 5752, 5820, 5892, 6152, 6240, 6396, 6552, 6612, 6672, 6732, 6792, 6852, 6960, 7064, 7112, 7172,
          7232, 7292, 7392, 7452, 7632, 7724, 7792, 7852, 8072, 8132, 8192, 8284, 8324, 8492, 8652, 8712, 8772, 8832,
          8892, 8952, 9032, 9112, 9172, 9232, 9372, 9432, 9632, 9692, 9828]
s_6131 = [64, 276, 444, 612, 816, 864, 924, 984, 1164, 1428, 1804, 1844, 1936, 1984, 2064, 2112, 2172, 2232, 2296, 2384,
          2416, 2664, 3048, 3288, 3424, 3492, 3544, 3636, 4152, 4476, 4884, 4912, 5232, 5292, 5352, 5472, 5532, 5592,
          5904, 6024, 6192, 6252, 6312, 6392, 6432, 6516, 6648, 6804, 6872, 6932, 6972, 7080, 7140, 7248, 7416, 7980,
          8268, 8324, 8400, 8564, 8632, 8692, 8832, 8892, 8972, 9252, 9300, 9492, 9540, 9792, 9860]
s_6130 = [288, 364, 408, 484, 588, 696, 780, 864, 900, 1248, 1308, 1800, 1836, 1956, 2016, 2256, 2492, 2544, 2592, 3060,
          3240, 3492, 3564, 3696, 3864, 4560, 4704, 4836, 4932, 4972, 5020, 5136, 5412, 5484, 5964, 6180, 6312, 6340,
          6696, 6768, 6828, 6900, 6972, 7020, 7104, 7308, 7484, 7548, 7788, 8004, 8232, 8352, 8580, 8652, 8784, 9024,
          9072, 9216, 9292, 9384, 9528, 9732, 9828, 9860]
s_6129 = [284, 316, 1836, 2096, 2256, 2648, 2748, 3312, 3660, 4800, 5304, 5760, 5844, 6300, 6516, 6612, 7236, 7860,
          8208, 8376, 8448, 8616, 8772, 8808, 9180, 9360]
s_6128 = [168, 456, 532, 612, 644, 724, 1104, 1524, 1680, 1800, 1872, 1908, 2004, 2040, 2148, 2448, 2544, 2592, 2628,
          2912, 3000, 3228, 3660, 4452, 4944, 5640, 6000, 6432, 6708, 6780, 6840, 7116, 7164, 7392, 7560, 7608, 7944,
          8064, 8628, 8808, 9096, 9132]
s_6127 = [1392, 1416, 1824, 3852, 5880, 6372, 6996, 7200, 7320, 7848, 7956, 8136, 8316, 8964, 9000, 9444]
s_6126 = [516, 1068, 1152, 1584, 2112, 2184, 3132, 4188, 6048, 6516, 6552, 6780, 6828, 7128, 7440, 7536, 7980, 8136,
          8388, 8580, 8748, 9300, 9756]
s_6125 = [444, 1080, 1704, 1992, 2124, 3336, 4356, 5028, 5688, 6084, 6300, 6492, 6828, 7632, 8256, 8712, 9276]
s_6124 = [1512, 2988, 3912, 4944, 5304, 6312, 6672, 7548, 7704, 8832, 9132]
s_6123 = [1476, 4224, 7320, 8244, 9360]
s_6122 = [4380, 8328]
s_6121 = [1632, 3852, 4848, 9588]
s_6120 = [540, 1404, 6888, 8700, 9216, 9420]
s_6119 = [3677]
s_6118 = [5545]
s_6117 = [5557]
s_6114 = [2491]

levels = [
    (6181, s_6181), (6176, s_6176), (6175, s_6175), (6173, s_6173), (6172, s_6172), (6171, s_6171), (6170, s_6170),
    (6169, s_6169), (6168, s_6168), (6167, s_6167), (6166, s_6166), (6165, s_6165), (6164, s_6164), (6163, s_6163),
    (6162, s_6162), (6161, s_6161), (6160, s_6160), (6159, s_6159), (6158, s_6158), (6157, s_6157), (6156, s_6156),
    (6155, s_6155), (6154, s_6154), (6153, s_6153), (6152, s_6152), (6151, s_6151), (6150, s_6150), (6149, s_6149),
    (6148, s_6148), (6147, s_6147), (6146, s_6146), (6145, s_6145), (6144, s_6144), (6143, s_6143), (6142, s_6142),
    (6141, s_6141), (6140, s_6140), (6139, s_6139), (6138, s_6138), (6137, s_6137), (6136, s_6136), (6135, s_6135),
    (6134, s_6134), (6133, s_6133), (6132, s_6132), (6131, s_6131), (6130, s_6130), (6129, s_6129), (6128, s_6128),
    (6127, s_6127), (6126, s_6126), (6125, s_6125), (6124, s_6124), (6123, s_6123), (6122, s_6122), (6121, s_6121),
    (6120, s_6120), (6119, s_6119), (6118, s_6118), (6117, s_6117), (6114, s_6114),
]

samples = []
counts = []
for level, xs in levels:
    samples.extend(xs)
    counts.extend([level] * len(xs))

plt.figure(figsize=(10, 10))
plt.plot(samples, counts, 'k.', label='Samples\n$\\mu$ = 6145.43, $\\sigma$ = 8.12')
plt.title('Run 604, channel031, Pedestal', pad=5)
plt.xlabel('Sample #')
plt.ylabel('ADC Counts')
plt.grid(True)
plt.legend(loc='upper right')
plt.subplots_adjust(left=0.081, right=0.985, top=0.965, bottom=0.058)
plt.savefig('out.png', dpi=100)
